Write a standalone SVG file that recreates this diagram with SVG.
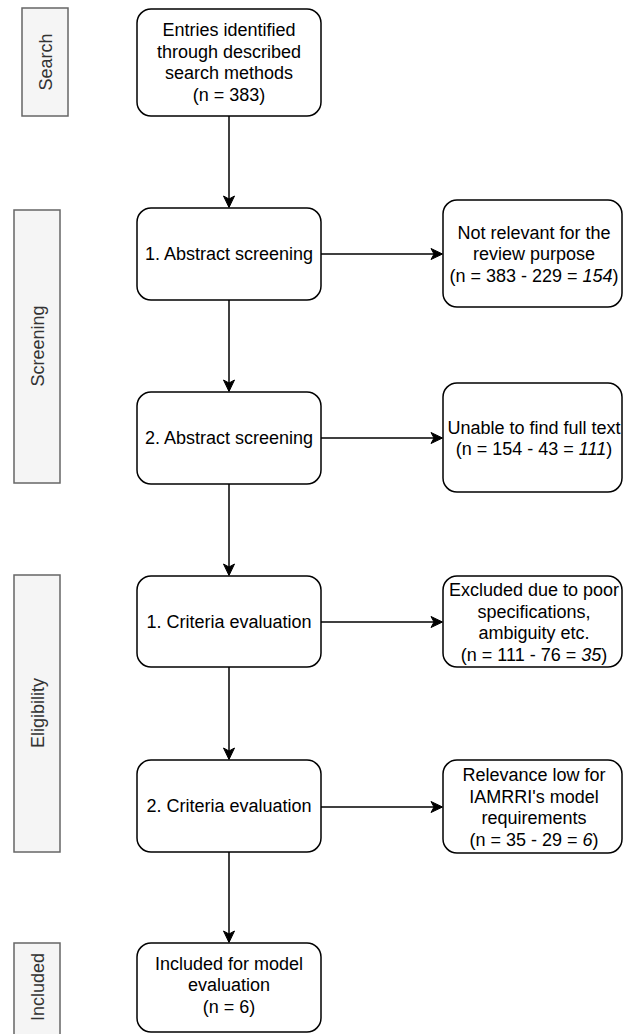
<svg xmlns="http://www.w3.org/2000/svg" width="623" height="1034" viewBox="0 0 623 1034">
<style>
.box{fill:#fff;stroke:#000;stroke-width:1.5}
.lab{fill:#f5f5f5;stroke:#666;stroke-width:1.5}
.t{font-family:"Liberation Sans",Arial,sans-serif;font-size:18px;fill:#000;text-anchor:middle}
.lt{font-family:"Liberation Sans",Arial,sans-serif;font-size:18px;fill:#333;text-anchor:middle}
.edge{stroke:#000;stroke-width:1.5;fill:none;marker-end:url(#arr)}
</style>
<defs>
<marker id="arr" markerWidth="14" markerHeight="14" viewBox="0 0 14 14" refX="12" refY="7" orient="auto" markerUnits="userSpaceOnUse">
<path d="M1,1.5 L12.5,7 L1,12.5 L4,7 Z" fill="#000" stroke="#000" stroke-width="1"/>
</marker>
</defs>
<g id="label-search"><rect class="lab" x="22" y="8" width="46" height="108"/><text class="lt" transform="translate(51.5,62) rotate(-90)">Search</text></g>
<g id="label-screening"><rect class="lab" x="14" y="210" width="46" height="273"/><text class="lt" transform="translate(43.5,346) rotate(-90)">Screening</text></g>
<g id="label-eligibility"><rect class="lab" x="14" y="575" width="46" height="277"/><text class="lt" transform="translate(43.5,713) rotate(-90)">Eligibility</text></g>
<g id="label-included"><rect class="lab" x="14" y="943" width="46" height="100"/><text class="lt" transform="translate(43.5,987) rotate(-90)">Included</text></g>

<g id="connectors">
<line class="edge" x1="229" y1="116" x2="229" y2="207"/>
<line class="edge" x1="229" y1="300" x2="229" y2="391"/>
<line class="edge" x1="229" y1="484" x2="229" y2="575"/>
<line class="edge" x1="229" y1="667" x2="229" y2="759"/>
<line class="edge" x1="229" y1="852" x2="229" y2="942"/>
<line class="edge" x1="321" y1="254" x2="442" y2="254"/>
<line class="edge" x1="321" y1="438" x2="442" y2="438"/>
<line class="edge" x1="321" y1="622" x2="442" y2="622"/>
<line class="edge" x1="321" y1="807" x2="442" y2="807"/>
</g>

<g id="n-entries"><rect class="box" x="137" y="9" width="184" height="107" rx="14"/>
<text class="t"><tspan x="229" y="36">Entries identified</tspan><tspan x="229" y="57.6">through described</tspan><tspan x="229" y="79.2">search methods</tspan><tspan x="229" y="100.8">(n = 383)</tspan></text></g>
<g id="n-abs1"><rect class="box" x="137" y="208" width="184" height="92" rx="14"/>
<text class="t" x="229" y="260.3">1. Abstract screening</text></g>
<g id="n-abs2"><rect class="box" x="137" y="392" width="184" height="92" rx="14"/>
<text class="t" x="229" y="444.3">2. Abstract screening</text></g>
<g id="n-crit1"><rect class="box" x="137" y="576" width="184" height="91" rx="14"/>
<text class="t" x="229" y="628.3">1. Criteria evaluation</text></g>
<g id="n-crit2"><rect class="box" x="137" y="760" width="184" height="92" rx="14"/>
<text class="t" x="229" y="812.3">2. Criteria evaluation</text></g>
<g id="n-incl"><rect class="box" x="137" y="943" width="184" height="89" rx="14"/>
<text class="t"><tspan x="229" y="969.7">Included for model</tspan><tspan x="229" y="991.3">evaluation</tspan><tspan x="229" y="1012.9">(n = 6)</tspan></text></g>

<g id="n-notrel"><rect class="box" x="443" y="200" width="179" height="107" rx="14"/>
<text class="t"><tspan x="534" y="238.7">Not relevant for the</tspan><tspan x="534" y="260.3">review purpose</tspan><tspan x="534" y="281.9">(n = 383 - 229 = <tspan font-style="italic">154</tspan>)</tspan></text></g>
<g id="n-unable"><rect class="box" x="443" y="383" width="179" height="109" rx="14"/>
<text class="t"><tspan x="534" y="433.5">Unable to find full text</tspan><tspan x="534" y="455.1">(n = 154 - 43 = <tspan font-style="italic">111</tspan>)</tspan></text></g>
<g id="n-excl"><rect class="box" x="443" y="576" width="179" height="91" rx="14"/>
<text class="t"><tspan x="534" y="596">Excluded due to poor</tspan><tspan x="534" y="617.6">specifications,</tspan><tspan x="534" y="639.2">ambiguity etc.</tspan><tspan x="534" y="660.8">(n = 111 - 76 = <tspan font-style="italic">35</tspan>)</tspan></text></g>
<g id="n-relev"><rect class="box" x="443" y="760" width="179" height="93" rx="14"/>
<text class="t"><tspan x="534" y="781">Relevance low for</tspan><tspan x="534" y="802.6">IAMRRI's model</tspan><tspan x="534" y="824.2">requirements</tspan><tspan x="534" y="845.8">(n = 35 - 29 = <tspan font-style="italic">6</tspan>)</tspan></text></g>
</svg>
